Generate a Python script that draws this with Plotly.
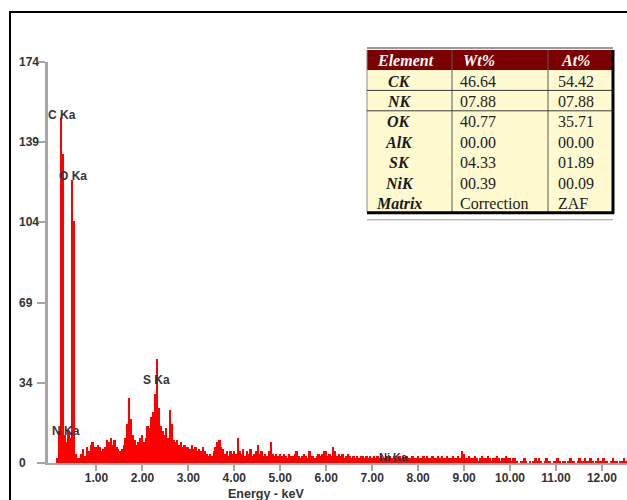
import plotly.graph_objects as go

# ---------------- data ----------------
channel_width = 0.04  # keV per channel (bin centres at 0.00, 0.04, ...)
counts = (
    # 0.00 - 0.96 keV
    [0, 0, 0, 0, 2, 14, 150, 134, 12, 9, 14, 11, 123, 105, 4, 2, 2, 4, 6, 3, 7, 5, 8, 9, 7]
    # 1.00 - 1.96
    + [7, 8, 7, 5, 6, 7, 10, 9, 11, 8, 10, 7, 6, 5, 6, 8, 11, 17, 28, 19, 12, 10, 8, 9, 11]
    # 2.00 - 2.96
    + [12, 9, 11, 16, 15, 20, 22, 30, 45, 24, 16, 14, 12, 15, 11, 23, 17, 10, 9, 10, 8, 9, 7, 8, 7]
    # 3.00 - 3.96
    + [7, 6, 8, 6, 7, 5, 6, 5, 7, 5, 4, 3, 4, 3, 5, 7, 9, 10, 7, 6, 4, 5, 3, 5, 4]
    # 4.00 - 4.96
    + [5, 4, 11, 5, 4, 6, 3, 5, 4, 6, 3, 4, 5, 8, 4, 5, 3, 4, 3, 5, 9, 4, 3, 4, 3]
    # 5.00 - 5.96
    + [4, 3, 4, 3, 2, 4, 3, 3, 4, 5, 3, 2, 3, 4, 3, 2, 5, 3, 3, 2, 3, 4, 3, 4, 5]
    # 6.00 - 6.96
    + [5, 3, 4, 3, 7, 5, 3, 4, 3, 4, 2, 3, 4, 3, 2, 3, 2, 3, 2, 3, 3, 2, 3, 2, 3]
    # 7.00 - 7.96
    + [2, 3, 2, 3, 2, 3, 2, 2, 3, 2, 3, 2, 3, 2, 2, 3, 2, 3, 2, 3, 2, 2, 3, 2, 2]
    # 8.00 - 8.96
    + [3, 2, 2, 3, 2, 3, 2, 2, 3, 2, 2, 3, 2, 3, 2, 2, 3, 2, 2, 3, 2, 2, 3, 2, 5]
    # 9.00 - 9.96
    + [4, 2, 2, 3, 2, 2, 3, 2, 1, 2, 3, 2, 2, 3, 2, 1, 2, 2, 3, 2, 1, 2, 2, 3, 2]
    # 10.00 - 10.96
    + [2, 1, 2, 2, 1, 0, 1, 1, 2, 1, 0, 1, 0, 1, 2, 1, 2, 1, 0, 1, 2, 1, 1, 0, 1]
    # 11.00 - 11.96
    + [1, 2, 1, 0, 1, 1, 0, 1, 2, 1, 1, 0, 1, 2, 1, 1, 2, 1, 1, 2, 1, 0, 1, 2, 1]
    # 12.00 - 12.52
    + [1, 2, 1, 1, 0, 1, 2, 1, 1, 0, 1, 1, 2, 1]
)
energy = [round(i * channel_width, 2) for i in range(len(counts))]

peak_names = ["C Ka", "O Ka", "N Ka", "S Ka", "Ni Ka"]
peak_energy = [0.25, 0.49, 0.34, 2.30, 7.46]
peak_label_y = [151, 124.5, 14, 36, 2.6]

x_tickvals = [1, 2, 3, 4, 5, 6, 7, 8, 9, 10, 11, 12]
x_ticktext = ["1.00", "2.00", "3.00", "4.00", "5.00", "6.00", "7.00", "8.00",
              "9.00", "10.00", "11.00", "12.00"]
y_tickvals = [0, 34.8, 69.6, 104.4, 139.2, 174]
y_ticktext = ["0", "34", "69", "104", "139", "174"]

table_header = ["Element", "Wt%", "At%"]
table_element = ["CK", "NK", "OK", "AlK", "SK", "NiK", "Matrix"]
table_wt = ["46.64", "07.88", "40.77", "00.00", "04.33", "00.39", "Correction"]
table_at = ["54.42", "07.88", "35.71", "00.00", "01.89", "00.09", "ZAF"]

# ---------------- layout helpers ----------------
W, H = 627, 500
ML, MT = 10, 12
PW, PH = W - ML, H - MT


def px_x(p):
    return (p - ML) / PW


def px_y(p):
    return (H - p) / PH


fig = go.Figure()
fig.add_trace(go.Bar(
    x=energy, y=counts, width=channel_width,
    marker=dict(color="#ff0000", line=dict(width=0)),
    hoverinfo="x+y",
))

tick_font = dict(family="Liberation Sans, Arial", size=12, color="#333333", weight="bold")
axis_grey = "#a6a6a6"

fig.update_layout(
    width=W, height=H,
    margin=dict(l=ML, r=0, t=MT, b=0, pad=0),
    paper_bgcolor="white", plot_bgcolor="white",
    showlegend=False, bargap=0,
    xaxis=dict(
        domain=[px_x(48), 1.0], range=[-0.054, 12.546],
        showgrid=False, zeroline=False,
        showline=True, linecolor=axis_grey, linewidth=2,
        tickmode="array", tickvals=x_tickvals, ticktext=x_ticktext,
        ticks="outside", ticklen=6, tickwidth=2, tickcolor=axis_grey,
        tickfont=tick_font, ticklabelstandoff=-3,
    ),
    yaxis=dict(
        domain=[px_y(463), px_y(62)], range=[0, 174],
        showgrid=False, zeroline=False,
        showline=True, linecolor=axis_grey, linewidth=3,
        tickmode="array", tickvals=y_tickvals,
        ticks="outside", ticklen=8, tickwidth=2, tickcolor=axis_grey,
        showticklabels=False,
    ),
)

annotations = []
# y tick labels (left aligned as in reference)
for v, t in zip(y_tickvals, y_ticktext):
    annotations.append(dict(
        x=px_x(17), xref="paper", y=v, yref="y", text=t, showarrow=False,
        xanchor="left", yanchor="middle", font=tick_font,
    ))
# x axis title
annotations.append(dict(
    x=px_x(266), xref="paper", y=px_y(494), yref="paper", text="Energy - keV",
    showarrow=False, xanchor="center", yanchor="middle",
    font=dict(family="Liberation Sans, Arial", size=12.5, color="#333333", weight="bold"),
))
# peak labels
for name, e, yy in zip(peak_names, peak_energy, peak_label_y):
    annotations.append(dict(
        x=e, xref="x", y=yy, yref="y", text=name, showarrow=False,
        xanchor="center", yanchor="middle",
        font=dict(family="Liberation Sans, Arial", size=12 if name != "Ni Ka" else 11,
                  color="#333340", weight="bold"),
    ))

# ---------------- table (shapes + text) ----------------
T_LEFT, T_RIGHT = 367, 613
T_TOP, HEAD_H, ROW_H = 50, 20, 20.4
col_div = [452, 548]
n_rows = len(table_element)
T_BOTTOM = T_TOP + HEAD_H + ROW_H * n_rows

shapes = []
# outer frame of the whole picture
shapes.append(dict(type="rect", xref="paper", yref="paper",
                   x0=px_x(10), x1=px_x(W + 20), y0=px_y(H + 20), y1=px_y(12),
                   line=dict(color="black", width=2), fillcolor="rgba(0,0,0,0)"))
# body fill
shapes.append(dict(type="rect", xref="paper", yref="paper",
                   x0=px_x(T_LEFT), x1=px_x(T_RIGHT), y0=px_y(T_BOTTOM), y1=px_y(T_TOP + HEAD_H),
                   line=dict(width=0), fillcolor="#fffad0"))
# header fill
shapes.append(dict(type="rect", xref="paper", yref="paper",
                   x0=px_x(T_LEFT), x1=px_x(T_RIGHT), y0=px_y(T_TOP + HEAD_H), y1=px_y(T_TOP),
                   line=dict(width=0), fillcolor="#7d0000"))
# grey line above header
shapes.append(dict(type="line", xref="paper", yref="paper",
                   x0=px_x(T_LEFT), x1=px_x(T_RIGHT), y0=px_y(T_TOP - 2), y1=px_y(T_TOP - 2),
                   line=dict(color="#9a9a9a", width=2)))
# left thin border
shapes.append(dict(type="line", xref="paper", yref="paper",
                   x0=px_x(T_LEFT), x1=px_x(T_LEFT), y0=px_y(T_BOTTOM), y1=px_y(T_TOP),
                   line=dict(color="#8a8a8a", width=1)))
# column dividers
for cx in col_div:
    shapes.append(dict(type="line", xref="paper", yref="paper",
                       x0=px_x(cx), x1=px_x(cx), y0=px_y(T_BOTTOM), y1=px_y(T_TOP),
                       line=dict(color="#5a5a5a", width=1)))
# horizontal lines after CK and NK rows
for r in [1, 2]:
    yy = T_TOP + HEAD_H + ROW_H * r
    shapes.append(dict(type="line", xref="paper", yref="paper",
                       x0=px_x(T_LEFT), x1=px_x(T_RIGHT), y0=px_y(yy), y1=px_y(yy),
                       line=dict(color="#3a3a3a", width=1)))
# thick black right & bottom borders
shapes.append(dict(type="line", xref="paper", yref="paper",
                   x0=px_x(T_RIGHT), x1=px_x(T_RIGHT), y0=px_y(T_BOTTOM + 1), y1=px_y(T_TOP),
                   line=dict(color="black", width=3)))
shapes.append(dict(type="line", xref="paper", yref="paper",
                   x0=px_x(T_LEFT), x1=px_x(T_RIGHT + 1), y0=px_y(T_BOTTOM), y1=px_y(T_BOTTOM),
                   line=dict(color="black", width=3)))
# grey line under table
shapes.append(dict(type="line", xref="paper", yref="paper",
                   x0=px_x(T_LEFT), x1=px_x(T_RIGHT), y0=px_y(T_BOTTOM + 7), y1=px_y(T_BOTTOM + 7),
                   line=dict(color="#9a9a9a", width=1)))

serif = "Liberation Serif, Times New Roman, serif"
head_font = dict(family=serif, size=16, color="white", weight="bold", style="italic")
elem_font = dict(family=serif, size=16, color="#1a1a1a", weight="bold", style="italic")
val_font = dict(family=serif, size=16, color="#222222")

head_y = T_TOP + HEAD_H / 2
annotations.append(dict(x=px_x(405), y=px_y(head_y), xref="paper", yref="paper",
                        text=table_header[0], showarrow=False, xanchor="center",
                        yanchor="middle", font=head_font))
annotations.append(dict(x=px_x(461), y=px_y(head_y), xref="paper", yref="paper",
                        text=table_header[1], showarrow=False, xanchor="left",
                        yanchor="middle", font=head_font))
annotations.append(dict(x=px_x(559), y=px_y(head_y), xref="paper", yref="paper",
                        text=table_header[2], showarrow=False, xanchor="left",
                        yanchor="middle", font=head_font))
for i in range(n_rows):
    ry = T_TOP + HEAD_H + ROW_H * (i + 0.5) + 1
    annotations.append(dict(x=px_x(399), y=px_y(ry), xref="paper", yref="paper",
                            text=table_element[i], showarrow=False, xanchor="center",
                            yanchor="middle", font=elem_font))
    annotations.append(dict(x=px_x(458), y=px_y(ry), xref="paper", yref="paper",
                            text=table_wt[i], showarrow=False, xanchor="left",
                            yanchor="middle", font=val_font))
    annotations.append(dict(x=px_x(556), y=px_y(ry), xref="paper", yref="paper",
                            text=table_at[i], showarrow=False, xanchor="left",
                            yanchor="middle", font=val_font))

fig.update_layout(shapes=shapes, annotations=annotations)
fig.write_html("out.html")
